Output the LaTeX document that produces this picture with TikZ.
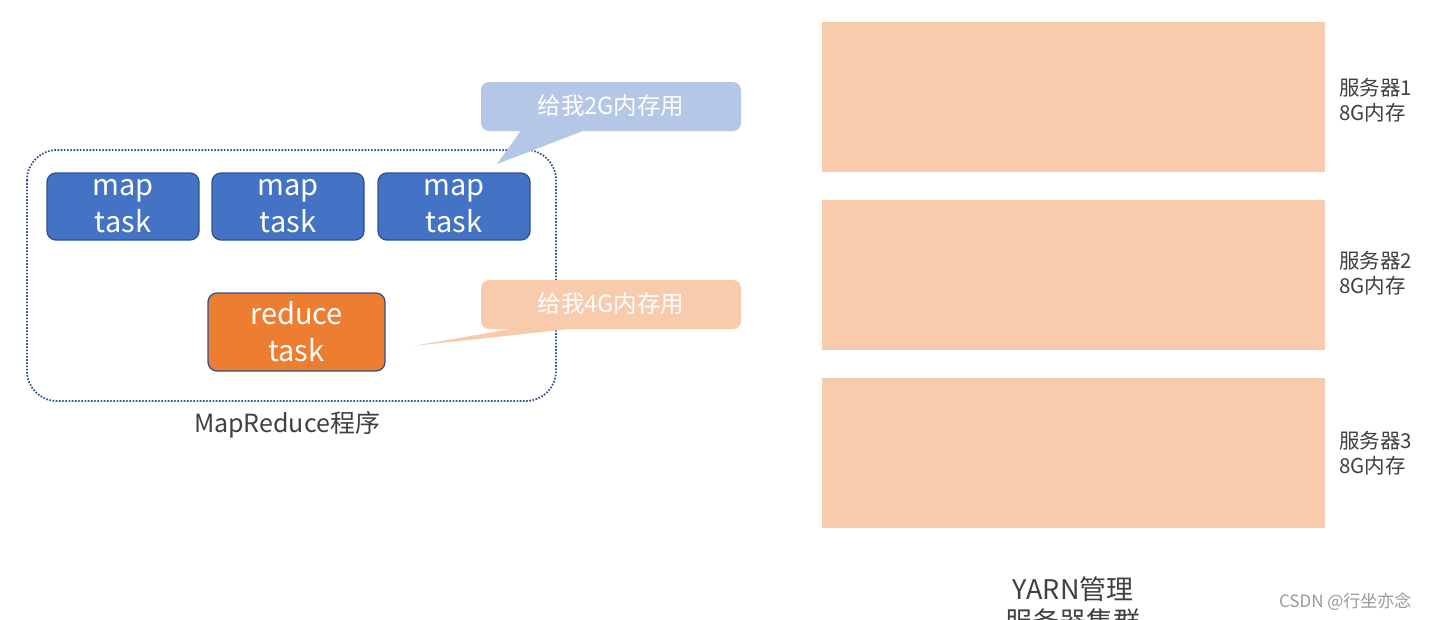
\documentclass[tikz,border=0pt]{standalone}
\usepackage{fontspec}
\setmainfont{Noto Sans CJK SC}
\usetikzlibrary{positioning}

\definecolor{taskblue}{HTML}{4472C4}
\definecolor{taskedge}{HTML}{2F528F}
\definecolor{taskorange}{HTML}{ED7D31}
\definecolor{askblue}{HTML}{B4C7E7}
\definecolor{peach}{HTML}{F8CBAD}
\definecolor{labelgray}{HTML}{404040}

\tikzset{
    task/.style={draw=taskedge, line width=1.3pt, rounded corners=9pt,
        text=white, align=center, inner sep=0pt,
        font=\fontsize{29}{37}\selectfont},
    asktext/.style={text=white, font=\fontsize{23.5}{27}\selectfont},
    server/.style={fill=peach, minimum width=503pt, minimum height=150pt, inner sep=0pt},
    serverlabel/.style={anchor=west, align=left, text=labelgray, inner sep=0pt,
        font=\fontsize{20.5}{25}\selectfont},
}

\begin{document}
\begin{tikzpicture}[x=1pt, y=-1pt]
    \useasboundingbox (0,0) rectangle (1431,619);
    \fill[white] (0,0) rectangle (1431,619);

    % MapReduce程序
    \draw[taskedge, line width=1.8pt, dash pattern=on 1.6pt off 1.6pt, rounded corners=30pt] (27,150) rectangle (556,401);
    \node[task, fill=taskblue, minimum width=152pt, minimum height=67pt] (map1) at (123,206.5) {map\\task};
    \node[task, fill=taskblue, minimum width=152pt, minimum height=67pt] (map2) at (288,206.5) {map\\task};
    \node[task, fill=taskblue, minimum width=152pt, minimum height=67pt] (map3) at (454,206.5) {map\\task};
    \node[task, fill=taskorange, minimum width=177pt, minimum height=78pt] (reduce) at (296.5,332) {reduce\\task};
    \node[text=labelgray, font=\fontsize{25}{30}\selectfont] (mrlabel) at (287,425) {MapReduce程序};

    % 申请内存
    \fill[askblue, rounded corners=8pt] (481,82) rectangle (741,131);
    \fill[askblue] (522,129) -- (497,164) -- (588,129) -- cycle;
    \node[asktext] (ask2g) at (611,106) {给我2G内存用};

    \fill[peach, rounded corners=8pt] (481,280) rectangle (741,329);
    \fill[peach] (522,327) -- (413,346) -- (588,327) -- cycle;
    \node[asktext] (ask4g) at (611,304) {给我4G内存用};

    % 服务器集群
    \node[server] (srv1) at (1073.5,97) {};
    \node[server] (srv2) at (1073.5,275) {};
    \node[server] (srv3) at (1073.5,453) {};
    \node[serverlabel] (srv1label) at (1339,100) {服务器1\\8G内存};
    \node[serverlabel] (srv2label) at (1339,273) {服务器2\\8G内存};
    \node[serverlabel] (srv3label) at (1339,453) {服务器3\\8G内存};

    \node[anchor=base, text=labelgray, font=\fontsize{27}{32}\selectfont] (yarn) at (1073,599) {YARN管理};
    \node[anchor=base, text=labelgray, font=\fontsize{27}{32}\selectfont] (cluster) at (1073,631) {服务器集群};

    \node[anchor=base east, text=gray!80, font=\fontsize{17}{20}\selectfont] (mark) at (1415,607) {CSDN @行坐亦念};
\end{tikzpicture}
\end{document}
